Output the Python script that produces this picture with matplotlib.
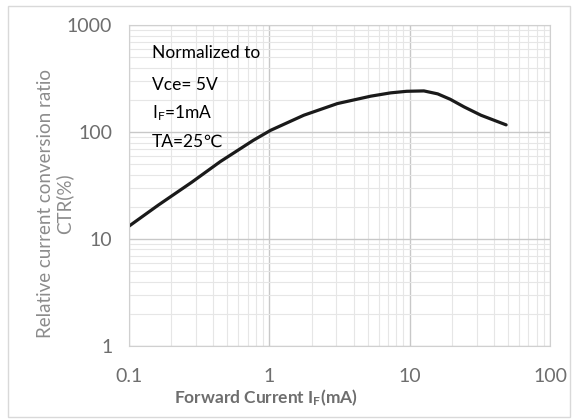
import matplotlib.pyplot as plt
from matplotlib.ticker import LogLocator, FixedLocator, FixedFormatter
from matplotlib.patches import Rectangle

# forward current (mA) vs relative CTR (%)
current = [0.1, 0.162, 0.28, 0.447, 0.77, 1.02, 1.76, 3.05, 5.27, 7.3, 9.5,
           12.6, 15.8, 19.4, 24.4, 32.1, 48.5]
ctr = [13.2, 20.8, 34.0, 53.0, 84, 104, 144, 185, 217, 233, 241,
       243, 228, 203, 172, 144, 117]

x_ticks = [0.1, 1, 10, 100]
x_labels = ['0.1', '1', '10', '100']
y_ticks = [1, 10, 100, 1000]
y_labels = ['1', '10', '100', '1000']

notes = ['Normalized to', 'Vce= 5V', r'$\mathregular{I_F}$=1mA', 'TA=25\u2103']

plt.rcParams['font.family'] = ['Lato', 'DejaVu Sans']

fig = plt.figure(figsize=(5.78, 4.2), dpi=100)
fig.patches.append(Rectangle((0.014, 0.007), 0.972, 0.979, transform=fig.transFigure,
                             fill=False, edgecolor='#d9d9d9', lw=1))
ax = fig.add_axes([0.223, 0.176, 0.729, 0.764])

ax.plot(current, ctr, color='#1a1a1a', lw=2.3, solid_capstyle='round',
        solid_joinstyle='round')

ax.set_xscale('log')
ax.set_yscale('log')
ax.set_xlim(0.1, 100)
ax.set_ylim(1, 1000)

ax.xaxis.set_major_locator(FixedLocator(x_ticks))
ax.xaxis.set_major_formatter(FixedFormatter(x_labels))
ax.yaxis.set_major_locator(FixedLocator(y_ticks))
ax.yaxis.set_major_formatter(FixedFormatter(y_labels))
ax.xaxis.set_minor_locator(LogLocator(base=10, subs=range(2, 10)))
ax.yaxis.set_minor_locator(LogLocator(base=10, subs=range(2, 10)))
ax.xaxis.set_minor_formatter(plt.NullFormatter())
ax.yaxis.set_minor_formatter(plt.NullFormatter())

ax.grid(which='major', color='#c8c8c8', lw=1.0)
ax.grid(which='minor', color='#e6e6e6', lw=0.8)
ax.set_axisbelow(True)
ax.tick_params(which='both', length=0, labelsize=14, labelcolor='#6e6e6e')
ax.tick_params(axis='x', pad=16)
ax.tick_params(axis='y', pad=12)

for s in ax.spines.values():
    s.set_color('#d0d0d0')

ax.text(0.325, -0.162, r'Forward Current $\mathregular{I_F}$(mA)', transform=ax.transAxes,
        fontsize=12.5, fontweight='bold', color='#6e6e6e', ha='center', va='center')
ax.text(-0.175, 0.445, 'Relative current conversion ratio\nCTR(%)', transform=ax.transAxes,
        fontsize=13.5, color='#8c8c8c', rotation=90, ha='center', va='center',
        multialignment='center', linespacing=1.05)

y_pos = [0.914, 0.813, 0.726, 0.636]
for t, yp in zip(notes, y_pos):
    ax.text(0.055, yp, t, transform=ax.transAxes, fontsize=12.5, color='black',
            va='center', ha='left')

fig.savefig('out.png', dpi=100)
